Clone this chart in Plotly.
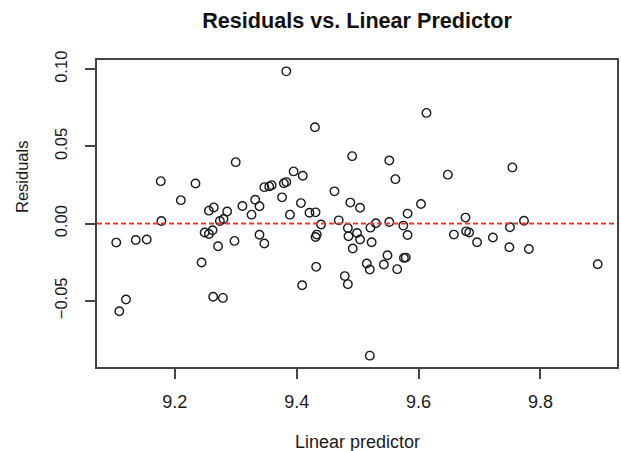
import plotly.graph_objects as go

# Linear predictor values (x) and residuals (y)
linear_predictor = [
    9.104, 9.109, 9.120, 9.136, 9.154, 9.177, 9.178, 9.210, 9.234, 9.244,
    9.249, 9.256, 9.262, 9.256, 9.264, 9.271, 9.274, 9.280, 9.286, 9.263,
    9.279, 9.298, 9.300, 9.311, 9.326, 9.332, 9.339, 9.339, 9.347, 9.347,
    9.355, 9.359, 9.376, 9.379, 9.383, 9.383, 9.389, 9.395, 9.410, 9.407,
    9.409, 9.421, 9.430, 9.431, 9.432, 9.431, 9.433, 9.440, 9.462, 9.469,
    9.479, 9.484, 9.484, 9.485, 9.488, 9.491, 9.492, 9.499, 9.504, 9.504,
    9.515, 9.520, 9.520, 9.521, 9.523, 9.530, 9.543, 9.549, 9.552, 9.552,
    9.562, 9.565, 9.575, 9.576, 9.579, 9.582, 9.582, 9.604, 9.613, 9.648,
    9.658, 9.677, 9.678, 9.683, 9.696, 9.722, 9.749, 9.750, 9.754, 9.773,
    9.781, 9.894,
]
residuals = [
    -0.0123, -0.0568, -0.0491, -0.0106, -0.0103, 0.0275, 0.0017, 0.0152, 0.0260, -0.0252,
    -0.0058, -0.0067, -0.0043, 0.0084, 0.0105, -0.0147, 0.0017, 0.0030, 0.0078, -0.0474,
    -0.0481, -0.0112, 0.0398, 0.0114, 0.0058, 0.0155, 0.0112, -0.0072, -0.0129, 0.0236,
    0.0241, 0.0249, 0.0170, 0.0262, 0.0269, 0.0986, 0.0058, 0.0338, 0.0310, 0.0133,
    -0.0399, 0.0070, 0.0624, 0.0073, -0.0280, -0.0087, -0.0071, -0.0006, 0.0209, 0.0021,
    -0.0340, -0.0392, -0.0028, -0.0082, 0.0136, 0.0437, -0.0161, -0.0061, 0.0103, -0.0103,
    -0.0258, -0.0297, -0.0855, -0.0026, -0.0121, 0.0002, -0.0265, -0.0205, 0.0409, 0.0010,
    0.0288, -0.0295, -0.0013, -0.0222, -0.0220, 0.0065, -0.0074, 0.0127, 0.0717, 0.0317,
    -0.0071, 0.0039, -0.0050, -0.0058, -0.0121, -0.0090, -0.0153, -0.0024, 0.0364, 0.0019,
    -0.0164, -0.0263,
]

x_ticks = [9.2, 9.4, 9.6, 9.8]
x_tick_labels = ["9.2", "9.4", "9.6", "9.8"]
y_ticks = [-0.05, 0.00, 0.05, 0.10]
y_tick_labels = ["\u22120.05", "0.00", "0.05", "0.10"]

title_text = "Residuals vs. Linear Predictor"
x_title = "Linear predictor"
y_title = "Residuals"

FONT = "Liberation Sans, Arial, Helvetica, sans-serif"
INK = "#1a1a1a"

fig = go.Figure()
fig.add_trace(go.Scatter(
    x=linear_predictor, y=residuals, mode="markers",
    marker=dict(symbol="circle-open", size=8.5, color=INK, line=dict(width=1.4, color=INK)),
    hoverinfo="x+y", showlegend=False,
))

fig.add_shape(type="line", xref="paper", yref="y", x0=0, x1=1, y0=0, y1=0,
              line=dict(color="#ff3030", width=2, dash="5px,3px"), layer="above")

xmin, xmax = min(linear_predictor), max(linear_predictor)
ymin, ymax = min(residuals), max(residuals)
xpad = 0.04 * (xmax - xmin)
ypad = 0.04 * (ymax - ymin)

fig.update_layout(
    width=621, height=451,
    margin=dict(l=97, r=2, t=60, b=84),
    paper_bgcolor="white", plot_bgcolor="white",
    font=dict(family=FONT, color=INK),
    title=dict(text="<b>" + title_text + "</b>", x=0.5, xref="paper", xanchor="center",
               y=1 - 20 / 451, yref="container", yanchor="middle",
               font=dict(size=21.6, family=FONT, color="#111")),
    xaxis=dict(range=[xmin - xpad, xmax + xpad], tickvals=x_ticks, ticktext=x_tick_labels,
               showgrid=False, zeroline=False, showline=True, mirror=True,
               linecolor="#444", linewidth=1.6, ticks="outside", ticklen=10,
               tickwidth=1.6, tickcolor="#444", ticklabelstandoff=8,
               tickfont=dict(size=18, family=FONT, color=INK)),
    yaxis=dict(range=[ymin - ypad, ymax + ypad], tickvals=y_ticks, ticktext=y_tick_labels,
               showgrid=False, zeroline=False, showline=True, mirror=True,
               linecolor="#444", linewidth=1.6, ticks="outside", ticklen=10,
               tickwidth=1.6, tickcolor="#444", tickangle=-90, ticklabelstandoff=12,
               tickfont=dict(size=16.5, family=FONT, color=INK)),
    annotations=[
        dict(text=x_title, xref="paper", yref="paper", x=0.5, y=(367 - 442) / 307,
             xanchor="center", yanchor="middle", showarrow=False,
             font=dict(size=18, family=FONT, color=INK)),
        dict(text=y_title, xref="paper", yref="paper", x=(21.7 - 97) / 522, y=(367 - 177) / 307,
             xanchor="center", yanchor="middle", showarrow=False, textangle=-90,
             font=dict(size=16.5, family=FONT, color=INK)),
    ],
)

fig.write_html("out.html", config={"displayModeBar": False},
               post_script="document.body.style.margin='0px';document.body.style.overflow='hidden';")
